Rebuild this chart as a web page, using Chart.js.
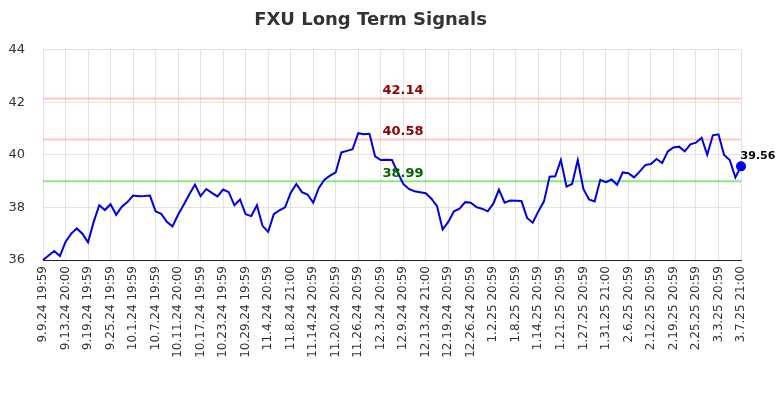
<!DOCTYPE html>
<html>
<head>
<meta charset="utf-8">
<script src="https://cdn.jsdelivr.net/npm/chart.js@4.4.1/dist/chart.umd.min.js"></script>
<style>
  html, body { margin: 0; padding: 0; background: #fff; }
  #wrap { width: 784px; height: 400px; }
</style>
</head>
<body>
<div id="wrap"><canvas id="chart"></canvas></div>
<script>
var tickLabels = ["9.9.24 19:59", "9.13.24 20:00", "9.19.24 19:59", "9.25.24 19:59", "10.1.24 19:59",
    "10.7.24 19:59", "10.11.24 20:00", "10.17.24 19:59", "10.23.24 19:59", "10.29.24 19:59",
    "11.4.24 20:59", "11.8.24 21:00", "11.14.24 20:59", "11.20.24 20:59", "11.26.24 20:59",
    "12.3.24 20:59", "12.9.24 20:59", "12.13.24 21:00", "12.19.24 20:59", "12.26.24 20:59",
    "1.2.25 20:59", "1.8.25 20:59", "1.14.25 20:59", "1.21.25 20:59", "1.27.25 20:59",
    "1.31.25 21:00", "2.6.25 20:59", "2.12.25 20:59", "2.19.25 20:59", "2.25.25 20:59",
    "3.3.25 20:59", "3.7.25 21:00"];

var prices = [
    36.00, 36.17, 36.34, 36.15, 36.69, 37.00, 37.20, 37.00, 36.67, 37.45,
    38.08, 37.90, 38.12, 37.72, 38.03, 38.20, 38.45, 38.42, 38.43, 38.45,
    37.85, 37.76, 37.45, 37.28, 37.72, 38.10, 38.50, 38.87, 38.43, 38.70,
    38.55, 38.42, 38.68, 38.58, 38.08, 38.30, 37.74, 37.67, 38.08, 37.30,
    37.07, 37.74, 37.89, 38.00, 38.55, 38.89, 38.58, 38.49, 38.18, 38.74,
    39.05, 39.21, 39.33, 40.09, 40.15, 40.21, 40.82, 40.78, 40.80, 39.94,
    39.80, 39.81, 39.80, 39.33, 38.89, 38.70, 38.61, 38.58, 38.54, 38.33,
    38.05, 37.16, 37.45, 37.85, 37.95, 38.20, 38.18, 38.01, 37.95, 37.85,
    38.14, 38.68, 38.18, 38.26, 38.25, 38.24, 37.60, 37.42, 37.85, 38.23,
    39.17, 39.18, 39.80, 38.79, 38.89, 39.80, 38.70, 38.30, 38.23, 39.05,
    38.96, 39.06, 38.86, 39.33, 39.30, 39.14, 39.36, 39.61, 39.65, 39.84,
    39.69, 40.13, 40.28, 40.31, 40.13, 40.40, 40.46, 40.65, 40.00, 40.74,
    40.78, 39.99, 39.80, 39.14, 39.56];

var signalLevels = [42.14, 40.58, 38.99];
var signalLineColors = ["rgba(255,150,150,0.55)", "rgba(255,150,150,0.55)", "rgba(80,220,60,0.65)"];
var signalTextColors = ["#8b0000", "#8b0000", "#006400"];

var points = prices.map(function (v, i) { return { x: i, y: v }; });

var signalPlugin = {
    id: 'signals',
    beforeDatasetsDraw: function (chart) {
        var ctx = chart.ctx, area = chart.chartArea, y = chart.scales.y;
        ctx.save();
        signalLevels.forEach(function (lvl, k) {
            var py = y.getPixelForValue(lvl);
            ctx.strokeStyle = signalLineColors[k];
            ctx.lineWidth = 2;
            ctx.beginPath();
            ctx.moveTo(area.left, py);
            ctx.lineTo(area.right, py);
            ctx.stroke();
        });
        ctx.restore();
    },
    afterDatasetsDraw: function (chart) {
        var ctx = chart.ctx, area = chart.chartArea, y = chart.scales.y, x = chart.scales.x;
        ctx.save();
        ctx.font = 'bold 13px "DejaVu Sans", sans-serif';
        ctx.textAlign = 'center';
        ctx.textBaseline = 'middle';
        signalLevels.forEach(function (lvl, k) {
            ctx.fillStyle = signalTextColors[k];
            ctx.fillText(lvl.toFixed(2), (area.left + area.right) / 2 + 11, y.getPixelForValue(lvl) - 8);
        });
        var last = prices.length - 1;
        ctx.fillStyle = '#000';
        ctx.font = 'bold 11px "DejaVu Sans", sans-serif';
        ctx.fillText(prices[last].toFixed(2), x.getPixelForValue(last) + 17, y.getPixelForValue(prices[last]) - 10);
        ctx.restore();
    }
};

var ctx = document.getElementById('chart').getContext('2d');
new Chart(ctx, {
    type: 'line',
    data: {
        datasets: [{
            data: points,
            borderColor: '#0000dd',
            borderWidth: 2,
            pointRadius: points.map(function (p, i) { return i === prices.length - 1 ? 4 : 0; }),
            pointBackgroundColor: '#0000ee',
            pointBorderColor: '#0000ee',
            tension: 0,
            fill: false,
            clip: false
        }]
    },
    options: {
        responsive: true,
        maintainAspectRatio: false,
        animation: false,
        layout: { padding: { left: 0, right: 43, top: 0, bottom: 0 } },
        plugins: {
            legend: { display: false },
            tooltip: { enabled: false },
            title: {
                display: true,
                text: 'FXU Long Term Signals',
                color: '#333',
                font: { family: '"DejaVu Sans", sans-serif', size: 18, weight: 'bold' },
                padding: { top: 10, bottom: 18 }
            }
        },
        scales: {
            x: {
                type: 'linear',
                min: 0,
                max: prices.length - 1,
                afterBuildTicks: function (scale) {
                    scale.ticks = tickLabels.map(function (t, i) { return { value: i * 4 }; });
                },
                afterFit: function (scale) { scale.height = 140; },
                ticks: {
                    autoSkip: false,
                    minRotation: 90,
                    maxRotation: 90,
                    color: '#333',
                    font: { family: '"DejaVu Sans", sans-serif', size: 12 },
                    padding: 6,
                    callback: function (v) { return tickLabels[v / 4]; }
                },
                grid: { color: '#e3e3e3', drawTicks: false },
                border: { color: '#222', width: 1 }
            },
            y: {
                min: 36,
                max: 44,
                afterFit: function (scale) { scale.width = 43; },
                ticks: {
                    stepSize: 2,
                    color: '#333',
                    font: { family: '"DejaVu Sans", sans-serif', size: 13 },
                    padding: 18
                },
                grid: { color: '#e3e3e3', drawTicks: false },
                border: { display: false }
            }
        }
    },
    plugins: [signalPlugin]
});
</script>
</body>
</html>
